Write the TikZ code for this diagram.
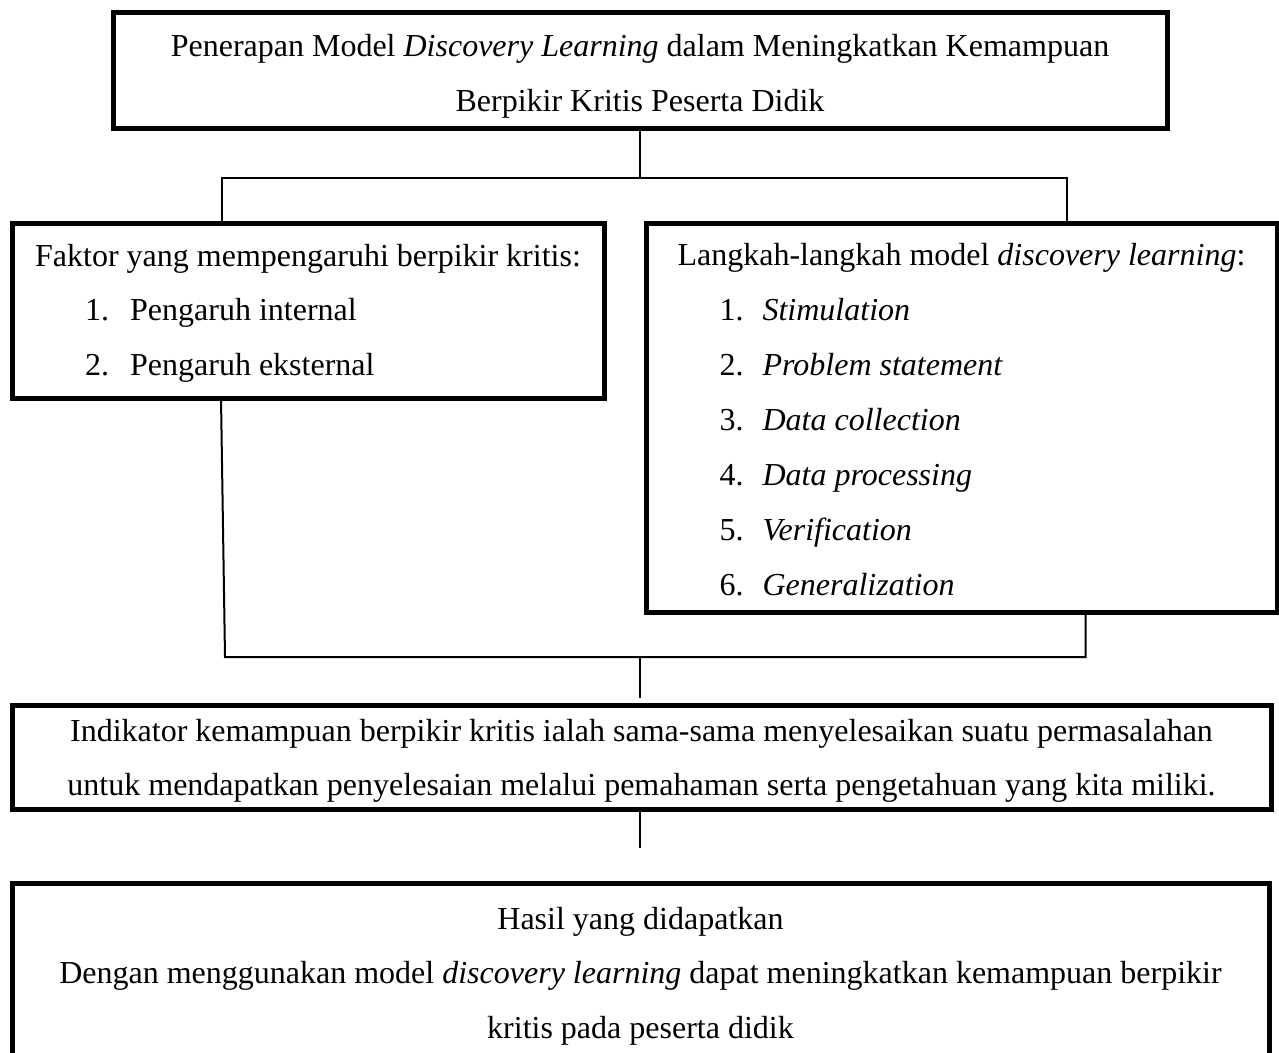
\documentclass[tikz,border=0pt]{standalone}
\usepackage{fontspec}
\setmainfont{Liberation Serif}
\usepackage{tikz}

% pushes the first line of a box down
\newcommand{\toppad}[1]{\rule{0pt}{#1pt}}

\begin{document}
\begin{tikzpicture}[x=1pt, y=-1pt,
  box/.style={draw, line width=5pt, inner sep=0pt, outer sep=0pt, anchor=north west, font=\fontsize{32}{54.5}\selectfont},
  link/.style={line width=2pt}]
\useasboundingbox (0,0) rectangle (1279,1052);

\node[box, minimum width=1054pt, minimum height=116pt, align=center] (title) at (113,12) {\toppad{35}Penerapan Model \textit{Discovery Learning} dalam Meningkatkan Kemampuan\\Berpikir Kritis Peserta Didik};

\node[box, minimum width=592pt, minimum height=175pt, align=left] (faktor) at (12,223) {\toppad{27}Faktor yang mempengaruhi berpikir kritis:\\
\hspace*{50pt}\makebox[45pt][l]{1.}Pengaruh internal\\
\hspace*{50pt}\makebox[45pt][l]{2.}Pengaruh eksternal};

\node[box, minimum width=631pt, minimum height=389pt, align=left, font=\fontsize{32}{55}\selectfont] (langkah) at (646,223) {\toppad{27}Langkah-langkah model \textit{discovery learning}:\\
\hspace*{42pt}\makebox[43pt][l]{1.}\textit{Stimulation}\\
\hspace*{42pt}\makebox[43pt][l]{2.}\textit{Problem statement}\\
\hspace*{42pt}\makebox[43pt][l]{3.}\textit{Data collection}\\
\hspace*{42pt}\makebox[43pt][l]{4.}\textit{Data processing}\\
\hspace*{42pt}\makebox[43pt][l]{5.}\textit{Verification}\\
\hspace*{42pt}\makebox[43pt][l]{6.}\textit{Generalization}};

\node[box, minimum width=1259pt, minimum height=104pt, align=center] (indikator) at (12,705) {\toppad{30}Indikator kemampuan berpikir kritis ialah sama-sama menyelesaikan suatu permasalahan\\untuk mendapatkan penyelesaian melalui pemahaman serta pengetahuan yang kita miliki.};

\node[box, minimum width=1257pt, minimum height=178pt, align=center] (hasil) at (12,883) {\toppad{30}Hasil yang didapatkan\\Dengan menggunakan model \textit{discovery learning} dapat meningkatkan kemampuan berpikir\\kritis pada peserta didik};

% connectors
\coordinate (topjoin) at (640,178);
\coordinate (midjoin) at (640,657);
\coordinate (indikatorend) at (640,698);
\coordinate (hasilend) at (640,848);
\draw[link] (title.south) -- (topjoin);
\draw[link] ([xshift=-86pt]faktor.north) |- (topjoin) -| ([xshift=105.5pt]langkah.north);
\draw[link] ([xshift=-87pt]faktor.south) -- ([xshift=-83pt]faktor.south |- midjoin) -- ([xshift=124pt]langkah.south |- midjoin) -- ([xshift=124pt]langkah.south);
\draw[link] (midjoin) -- (indikatorend);
\draw[link] (indikator.south -| hasilend) -- (hasilend);
\end{tikzpicture}
\end{document}
